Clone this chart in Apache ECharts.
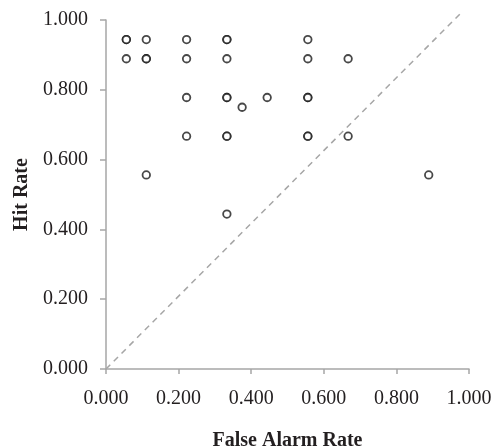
<!DOCTYPE html>
<html>
<head>
<meta charset="utf-8">
<script src="https://cdn.jsdelivr.net/npm/echarts@6/dist/echarts.min.js"></script>
<style>html,body{margin:0;padding:0;background:#fff}#c{width:495px;height:448px}</style>
</head>
<body>
<div id="c"></div>
<script>
var falseAlarm = [0.056,0.056,0.111,0.222,0.333,0.333,0.556,
                  0.056,0.111,0.111,0.222,0.333,0.556,0.667,
                  0.222,0.333,0.333,0.375,0.444,0.556,0.556,
                  0.222,0.333,0.333,0.556,0.556,0.667,
                  0.111,0.889,0.333];
var hitRate = [0.944,0.944,0.944,0.944,0.944,0.944,0.944,
               0.889,0.889,0.889,0.889,0.889,0.889,0.889,
               0.778,0.778,0.778,0.750,0.778,0.778,0.778,
               0.667,0.667,0.667,0.667,0.667,0.667,
               0.556,0.556,0.444];
var diagX = [0, 0.975];
var diagY = [0, 1.017];
var xTicks = ['0.000','0.200','0.400','0.600','0.800','1.000'];
var yTicks = ['0.000','0.200','0.400','0.600','0.800','1.000'];

var pts = falseAlarm.map(function(x,i){return [x, hitRate[i]];});
var diag = diagX.map(function(x,i){return [x, diagY[i]];});
var font = 'Liberation Serif';
var chart = echarts.init(document.getElementById('c'), null, {renderer:'canvas'});
chart.setOption({
  animation:false,
  grid:{left:106,right:26,top:20,bottom:79,containLabel:false,outerBoundsMode:'none'},
  xAxis:{type:'value',min:0,max:1,interval:0.2,
    name:'False Alarm Rate',nameLocation:'middle',nameGap:62,
    nameTextStyle:{fontFamily:font,fontWeight:'bold',fontSize:20,color:'#231f20'},
    axisLine:{show:true,lineStyle:{color:'#a6a6a6',width:1.5}},
    axisTick:{show:true,length:5,lineStyle:{color:'#a6a6a6',width:1.5}},
    splitLine:{show:false},
    axisLabel:{margin:20,fontFamily:font,fontSize:20,color:'#231f20',
      formatter:function(v){return xTicks[Math.round(v/0.2)];}}
  },
  yAxis:{type:'value',min:0,max:1,interval:0.2,
    name:'Hit Rate',nameLocation:'middle',nameGap:73,
    nameTextStyle:{fontFamily:font,fontWeight:'bold',fontSize:20,color:'#231f20'},
    axisLine:{show:true,lineStyle:{color:'#a6a6a6',width:1.5}},
    axisTick:{show:true,length:6,lineStyle:{color:'#a6a6a6',width:1.5}},
    splitLine:{show:false},
    axisLabel:{margin:18,fontFamily:font,fontSize:20,color:'#231f20',
      formatter:function(v){return yTicks[Math.round(v/0.2)];}}
  },
  series:[
    {type:'line',data:diag,symbol:'none',clip:false,silent:true,
     lineStyle:{color:'#a6a6a6',width:1.5,type:[6,5]},z:1},
    {type:'scatter',data:pts,symbol:'circle',symbolSize:7.5,z:2,
     itemStyle:{color:'#ffffff',borderColor:'#1a1a1a',borderWidth:1.8}}
  ]
});
</script>
</body>
</html>
